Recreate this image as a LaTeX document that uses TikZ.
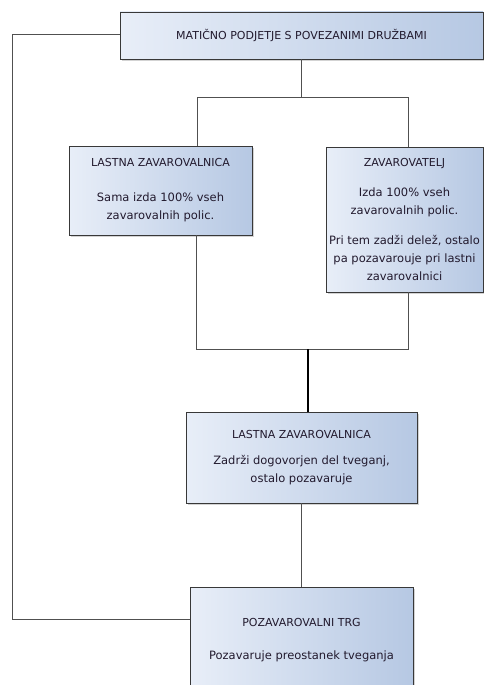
\documentclass[tikz,border=0pt]{standalone}
\usepackage{fontspec}
\setmainfont{DejaVu Sans}
\usepackage{tikz}
\usetikzlibrary{shadows}

\definecolor{boxleft}{HTML}{E8EEF8}
\definecolor{boxright}{HTML}{B6C8E3}
\definecolor{boxline}{HTML}{383838}
\definecolor{boxtext}{HTML}{221A2E}
\definecolor{connline}{HTML}{505050}

\newcommand{\hd}[1]{{\fontsize{11}{17}\selectfont #1}}
\newcommand{\bd}{\fontsize{11.5}{18}\selectfont}

\tikzset{
  unit/.style={draw=boxline, line width=0.9pt, left color=boxleft, right color=boxright,
    drop shadow={opacity=0.35, shadow xshift=2pt, shadow yshift=-2pt},
    inner sep=0pt, outer sep=0pt, align=center, text=boxtext, font=\bd},
  conn/.style={draw=connline, line width=0.9pt},
  stem/.style={draw=black, line width=1.8pt}
}

\begin{document}
\begin{tikzpicture}[x=1pt, y=-1pt]

        \useasboundingbox (0,0) rectangle (484,685);
        \clip (0,0) rectangle (484,685);

        % boxes
        \node[unit, minimum width=363pt, minimum height=47pt] (parent) at (301.5,35.5)
            {\hd{MATIČNO PODJETJE S POVEZANIMI DRUŽBAMI}};
        \node[unit, minimum width=183pt, minimum height=89pt] (captive) at (160.5,190.5)
            {\hd{LASTNA ZAVAROVALNICA}\\[17pt] Sama izda 100\% vseh\\ zavarovalnih polic.};
        \node[unit, minimum width=157pt, minimum height=145pt] (insurer) at (404.5,219.5)
            {\hd{ZAVAROVATELJ}\\[12pt] Izda 100\% vseh\\ zavarovalnih polic.\\[12pt]
             Pri tem zadži delež, ostalo\\ pa pozavarouje pri lastni\\ zavarovalnici};
        \node[unit, minimum width=231pt, minimum height=91pt] (retain) at (301.5,457.5)
            {\hd{LASTNA ZAVAROVALNICA}\\[8pt] Zadrži dogovorjen del tveganj,\\ ostalo pozavaruje};
        \node[unit, minimum width=223pt, minimum height=106pt] (market) at (301.5,640)
            {\hd{POZAVAROVALNI TRG}\\[15pt] Pozavaruje preostanek tveganja};

        % split under the parent
        \coordinate (jl) at (197,97);
        \coordinate (jr) at (408,97);
        \draw[conn] (parent.south) -- (parent |- jl);
        \draw[conn] (jl) -- (jr);
        \draw[conn] (jl) -- (jl |- captive.north);
        \draw[conn] (jr) -- (jr |- insurer.north);

        % join above the retaining captive
        \coordinate (ml) at (196,349);
        \coordinate (mr) at (408,349);
        \coordinate (mm) at (308,349);
        \draw[conn] (ml |- captive.south) -- (ml) -- (mr) -- (mr |- insurer.south);
        \draw[stem] (mm) -- (mm |- retain.north);
        \draw[conn] (retain.south) -- (market.north);

        % loop on the left
        \coordinate (lt) at (12,34);
        \coordinate (lb) at (12,619);
        \draw[conn] (parent.west |- lt) -- (lt) -- (lb) -- (lb -| market.west);

\end{tikzpicture}
\end{document}
